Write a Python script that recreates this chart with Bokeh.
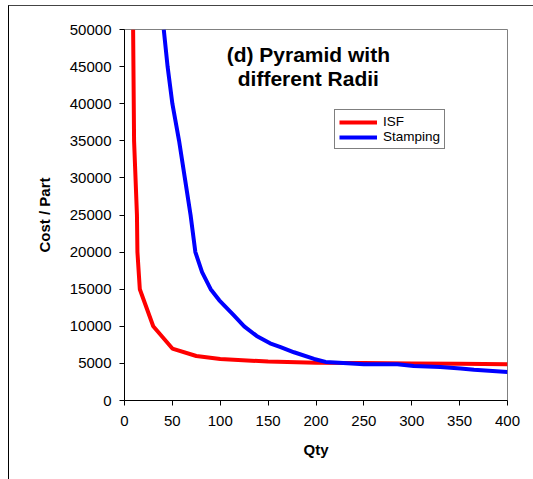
from bokeh.plotting import figure
from bokeh.models import (Range1d, Label, Legend, LegendItem, SingleIntervalTicker,
                          NumeralTickFormatter, InlineStyleSheet)
from bokeh.embed import file_html
from bokeh.resources import INLINE

FONT = "Liberation Sans"

# ---- data ----
isf_qty = [9, 10, 11.5, 13, 13.5, 16, 30, 50, 75, 100, 150, 200, 250, 300, 350, 400]
isf_cost = [50000, 35000, 30000, 25000, 20000, 15000, 10000, 7000, 6000, 5600, 5250, 5100, 5050, 5000, 4950, 4900]

stamp_qty = [41, 45, 50, 57, 63, 69, 74, 81, 90, 99, 114, 125, 138, 152, 163, 177,
             198, 210, 224, 250, 285, 302, 330, 351, 365, 400]
stamp_cost = [50000, 45000, 40000, 35000, 30000, 25000, 20000, 17300, 15000, 13500, 11500, 10000,
              8700, 7700, 7200, 6500, 5600, 5200, 5100, 4900, 4900, 4650, 4500, 4300, 4150, 3850]

series_names = ["ISF", "Stamping"]
title_lines = ["(d) Pyramid with", "different Radii"]
x_title = "Qty"
y_title = "Cost / Part"

p = figure(width=533, height=479, output_backend="svg", toolbar_location=None,
           x_range=Range1d(0, 400), y_range=Range1d(0, 50000),
           min_border_left=124, min_border_right=26, min_border_top=29, min_border_bottom=79)

# outer chart-area frame (thin border lines seen at the top and left of the picture)
p.stylesheets = [InlineStyleSheet(css="""
:host::before {
  content: "";
  position: absolute;
  left: 8px; top: 5px; width: 530px; height: 480px;
  border-top: 1px solid #444444;
  border-left: 1px solid #000000;
  pointer-events: none;
  z-index: 10;
}
""")]

p.xgrid.visible = False
p.ygrid.visible = False
p.outline_line_color = "#808080"
p.outline_line_width = 1
p.background_fill_color = "white"
p.border_fill_color = "white"

r1 = p.line(isf_qty, isf_cost, line_color="#ff0000", line_width=4)
r2 = p.line(stamp_qty, stamp_cost, line_color="#0000ff", line_width=4)

p.xaxis.ticker = SingleIntervalTicker(interval=50)
p.yaxis.ticker = SingleIntervalTicker(interval=5000)
p.yaxis.formatter = NumeralTickFormatter(format="0")
for ax in (p.xaxis, p.yaxis):
    ax.minor_tick_line_color = None
    ax.major_tick_in = 0
    ax.major_tick_out = 5
    ax.axis_line_color = "black"
    ax.major_tick_line_color = "black"
    ax.major_label_text_font = FONT
    ax.major_label_text_font_size = "15px"
    ax.major_label_text_color = "black"
    ax.axis_label_text_font = FONT
    ax.axis_label_text_font_style = "bold"
    ax.axis_label_text_font_size = "15px"
    ax.axis_label_text_color = "black"

p.yaxis.major_label_standoff = 8
p.xaxis.major_label_standoff = 10
p.xaxis.axis_label = x_title
p.yaxis.axis_label = y_title
p.xaxis.axis_label_standoff = 12
p.yaxis.axis_label_standoff = 14

p.add_layout(Label(x=192, y=46600, text=title_lines[0], text_align="center", text_baseline="alphabetic",
                   text_font=FONT, text_font_style="bold", text_font_size="21px", text_color="black"))
p.add_layout(Label(x=192, y=43350, text=title_lines[1], text_align="center", text_baseline="alphabetic",
                   text_font=FONT, text_font_style="bold", text_font_size="21px", text_color="black"))

legend = Legend(items=[LegendItem(label=series_names[0], renderers=[r1]),
                       LegendItem(label=series_names[1], renderers=[r2])],
                location=(210, 251))
legend.border_line_color = "black"
legend.border_line_width = 1
legend.background_fill_alpha = 1
legend.padding = 4
legend.spacing = 0
legend.margin = 0
legend.glyph_width = 38
legend.glyph_height = 12
legend.label_height = 12
legend.label_standoff = 6
legend.label_text_font = FONT
legend.label_text_font_size = "13.5px"
legend.label_text_color = "black"
p.add_layout(legend, "center")

open("out.html", "w").write(file_html(p, INLINE))
